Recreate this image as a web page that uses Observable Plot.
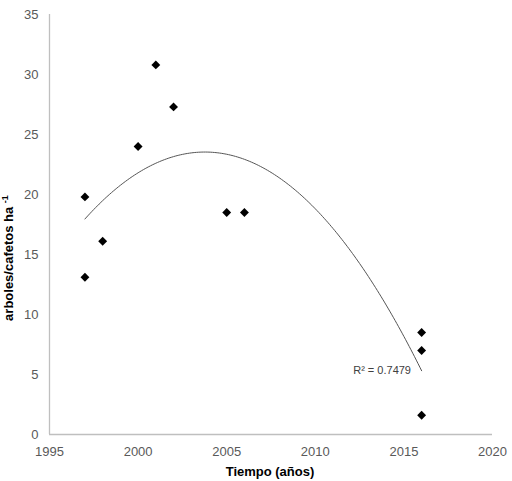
<!DOCTYPE html>
<html>
<head>
<meta charset="utf-8">
<script src="https://cdn.jsdelivr.net/npm/d3@7"></script>
<script src="https://cdn.jsdelivr.net/npm/@observablehq/plot@0.6"></script>
<style>
  body { margin: 0; background: #fff; }
</style>
</head>
<body>
<div id="chart"></div>
<script>
// datos
const anios = [1997, 1997, 1998, 2000, 2001, 2002, 2005, 2006, 2016, 2016, 2016];
const densidad = [19.8, 13.1, 16.1, 24.0, 30.8, 27.3, 18.5, 18.5, 8.5, 7.0, 1.6];
const xTicks = [1995, 2000, 2005, 2010, 2015, 2020];
const yTicks = [0, 5, 10, 15, 20, 25, 30, 35];
const etiquetaR2 = "R² = 0.7479";

const data = anios.map((a, i) => ({anio: a, valor: densidad[i]}));

// tendencia polinomica de grado 2 (minimos cuadrados), como la de Excel
function ajusteCuadratico(xs, ys) {
  const x0 = 2000;
  const s = [0, 0, 0, 0, 0], t = [0, 0, 0];
  xs.forEach((x, i) => {
    const u = x - x0;
    for (let k = 0; k < 5; k++) s[k] += u ** k;
    for (let k = 0; k < 3; k++) t[k] += ys[i] * u ** k;
  });
  const m = [[s[0], s[1], s[2], t[0]], [s[1], s[2], s[3], t[1]], [s[2], s[3], s[4], t[2]]];
  for (let c = 0; c < 3; c++) {
    for (let r = c + 1; r < 3; r++) {
      const f = m[r][c] / m[c][c];
      for (let k = c; k < 4; k++) m[r][k] -= f * m[c][k];
    }
  }
  const b = [0, 0, 0];
  for (let r = 2; r >= 0; r--) {
    let v = m[r][3];
    for (let k = r + 1; k < 3; k++) v -= m[r][k] * b[k];
    b[r] = v / m[r][r];
  }
  return x => b[0] + b[1] * (x - x0) + b[2] * (x - x0) ** 2;
}
const f = ajusteCuadratico(anios, densidad);
const tendencia = d3.range(d3.min(anios), d3.max(anios) + 0.001, 0.1).map(x => ({anio: x, valor: f(x)}));

const chart = Plot.plot({
  width: 512,
  height: 481,
  marginLeft: 49,
  marginRight: 20,
  marginTop: 14,
  marginBottom: 47,
  style: { fontFamily: "Liberation Sans, Arial, sans-serif", fontSize: 13, color: "#595959" },
  x: { domain: [1995, 2020], ticks: xTicks, tickFormat: "d", tickSize: 0, tickPadding: 12, label: null },
  y: { domain: [0, 35], ticks: yTicks, tickSize: 0, tickPadding: 11, label: null },
  marks: [
    Plot.ruleX([1995], { stroke: "#bfbfbf", strokeWidth: 1.3 }),
    Plot.ruleY([0], { stroke: "#bfbfbf", strokeWidth: 1.3 }),
    Plot.line(tendencia, { x: "anio", y: "valor", stroke: "#555", strokeWidth: 1, curve: "natural" }),
    Plot.dot(data, { x: "anio", y: "valor", symbol: "diamond2", r: 4, fill: "#000", stroke: "none" }),
    Plot.text([etiquetaR2], { x: 2015.4, y: 5.3, textAnchor: "end", fontSize: 11, fill: "#404040" })
  ]
});

const svg = d3.select(chart);
svg.append("text")
  .attr("x", 270).attr("y", 476)
  .attr("text-anchor", "middle")
  .attr("font-weight", "bold")
  .attr("font-size", 13)
  .attr("fill", "#000")
  .text("Tiempo (años)");

const yl = svg.append("text")
  .attr("transform", "translate(13,258) rotate(-90)")
  .attr("text-anchor", "middle")
  .attr("font-weight", "bold")
  .attr("font-size", 13)
  .attr("fill", "#000");
yl.append("tspan").text("arboles/cafetos ha ");
yl.append("tspan").attr("dy", -5).attr("font-size", 9).text("-1");

d3.select("#chart").append(() => chart);
</script>
</body>
</html>
